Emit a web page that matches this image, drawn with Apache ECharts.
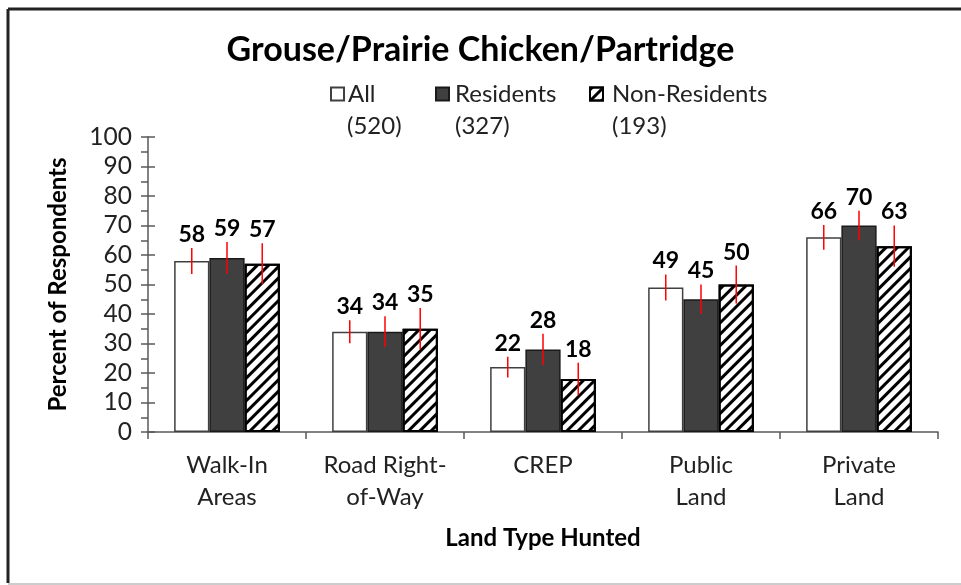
<!DOCTYPE html>
<html>
<head>
<meta charset="utf-8">
<script src="https://cdn.jsdelivr.net/npm/echarts@6/dist/echarts.min.js"></script>
<style>
html, body { margin: 0; padding: 0; background: #fff; }
#main { width: 961px; height: 585px; }
</style>
</head>
<body>
<div id="main"></div>
<script>
var app = echarts.init(document.getElementById('main'));

var categories = ['Walk-In\nAreas', 'Road Right-\nof-Way', 'CREP', 'Public\nLand', 'Private\nLand'];
var series_names = ['All', 'Residents', 'Non-Residents'];
var counts = ['(520)', '(327)', '(193)'];
var all_vals = [58, 34, 22, 49, 66];
var res_vals = [59, 34, 28, 45, 70];
var non_vals = [57, 35, 18, 50, 63];
// half-width of the red error bars, in percent
var all_err = [4.4, 3.9, 3.5, 4.4, 4.2];
var res_err = [5.4, 5.2, 5.3, 5.0, 5.0];
var non_err = [7.0, 7.0, 5.5, 6.4, 7.0];

var FONT = 'Lato, "Open Sans", sans-serif';
var BAR_W = 0.223;

function errSeries(k, vals, errs) {
  return {
    type: 'custom',
    z: 5,
    silent: true,
    data: vals.map(function (v, i) { return [i, v, errs[i]]; }),
    renderItem: function (params, api) {
      var band = api.size([1, 0])[0];
      var bw = band * BAR_W;
      var v = api.value(1), e = api.value(2);
      var x = api.coord([api.value(0), v])[0] + (k - 1) * bw;
      var top = api.coord([api.value(0), v + e])[1];
      var bot = api.coord([api.value(0), v - e])[1];
      return {
        type: 'group',
        children: [{
          type: 'line',
          shape: {x1: x, y1: top, x2: x, y2: bot},
          style: {stroke: '#ff0000', lineWidth: 1.5}
        }, {
          type: 'text',
          style: {
            text: String(v), x: x, y: top - 2,
            align: 'center', verticalAlign: 'bottom',
            font: 'bold 23px ' + FONT, fill: '#000'
          }
        }]
      };
    }
  };
}

var bar_styles = [
  {color: '#ffffff', borderColor: '#404040', borderWidth: 1.5},
  {color: '#404040', borderColor: '#1a1a1a', borderWidth: 1.5},
  {color: '#ffffff', borderColor: '#000000', borderWidth: 2,
   decal: {symbol: 'rect', symbolSize: 1, dashArrayX: [1, 0], dashArrayY: [2.5, 4.5],
           rotation: -Math.PI / 4, color: '#000000'}}
];
var legend_left = [330, 435, 589];
var text_gap = [-1, 1, 4];
var count_left = [347, 455, 612];

option = {
    animation: false,
    textStyle: {fontFamily: FONT},
    title: {
      text: 'Grouse/Prairie Chicken/Partridge',
      left: 'center', top: 33, padding: 0,
      textStyle: {fontSize: 34, fontWeight: 'bold', color: '#000', fontFamily: FONT}
    },
    legend: series_names.map(function (n, i) {
      return {
        data: [n], left: legend_left[i], top: 82, padding: 0,
        icon: 'rect', itemWidth: 13, itemHeight: 13, itemGap: 0,
        selectedMode: false,
        textStyle: {fontSize: 24, color: '#222', fontFamily: FONT, padding: [0, 0, 0, text_gap[i]]}
      };
    }),
    graphic: counts.map(function (c, i) {
      return {
        type: 'text', left: count_left[i], top: 114,
        style: {text: c, font: '24px ' + FONT, fill: '#222'}
      };
    }).concat([
      {type: 'line', shape: {x1: 8, y1: 9, x2: 961, y2: 9}, style: {stroke: '#222', lineWidth: 3}},
      {type: 'line', shape: {x1: 8, y1: 9, x2: 8, y2: 583}, style: {stroke: '#222', lineWidth: 3}},
      {type: 'line', shape: {x1: 8, y1: 584, x2: 961, y2: 584}, style: {stroke: '#cccccc', lineWidth: 2}}
    ]),
    grid: {left: 148, right: 23, top: 137, bottom: 153},
    xAxis: {
        type: 'category',
        data: categories,
        name: 'Land Type Hunted',
        nameLocation: 'middle',
        nameGap: 94,
        nameTextStyle: {fontSize: 24, fontWeight: 'bold', color: '#000', fontFamily: FONT},
        axisLine: {lineStyle: {color: '#595959', width: 1.5}},
        axisTick: {show: true, length: 7, lineStyle: {color: '#595959', width: 1.5}},
        axisLabel: {fontSize: 24, color: '#222', margin: 17, lineHeight: 32, interval: 0}
    },
    yAxis: [{
        type: 'value',
        min: 0, max: 100, interval: 10,
        name: 'Percent of Respondents',
        nameLocation: 'middle',
        nameGap: 78,
        nameTextStyle: {fontSize: 24, fontWeight: 'bold', color: '#000', fontFamily: FONT},
        splitLine: {show: false},
        axisLine: {show: true, lineStyle: {color: '#595959', width: 1.5}},
        axisTick: {show: true, length: 7, lineStyle: {color: '#595959', width: 1.5}},
        minorTick: {show: true, splitNumber: 2, length: 7, lineStyle: {color: '#595959', width: 1.5}},
        axisLabel: {fontSize: 24.5, color: '#222', margin: 16}
    }, {
        type: 'value',
        position: 'left',
        min: 0, max: 100, interval: 10,
        splitLine: {show: false},
        axisLine: {show: false},
        axisTick: {show: true, inside: true, length: 7, lineStyle: {color: '#595959', width: 1.5}},
        axisLabel: {show: false}
    }],
    series: [all_vals, res_vals, non_vals].map(function (vals, k) {
      return {
        name: series_names[k],
        type: 'bar',
        data: vals,
        barWidth: (BAR_W * 100) + '%',
        barGap: '0%',
        itemStyle: bar_styles[k]
      };
    }).concat([
      errSeries(0, all_vals, all_err),
      errSeries(1, res_vals, res_err),
      errSeries(2, non_vals, non_err)
    ])
};

app.setOption(option);
</script>
</body>
</html>
